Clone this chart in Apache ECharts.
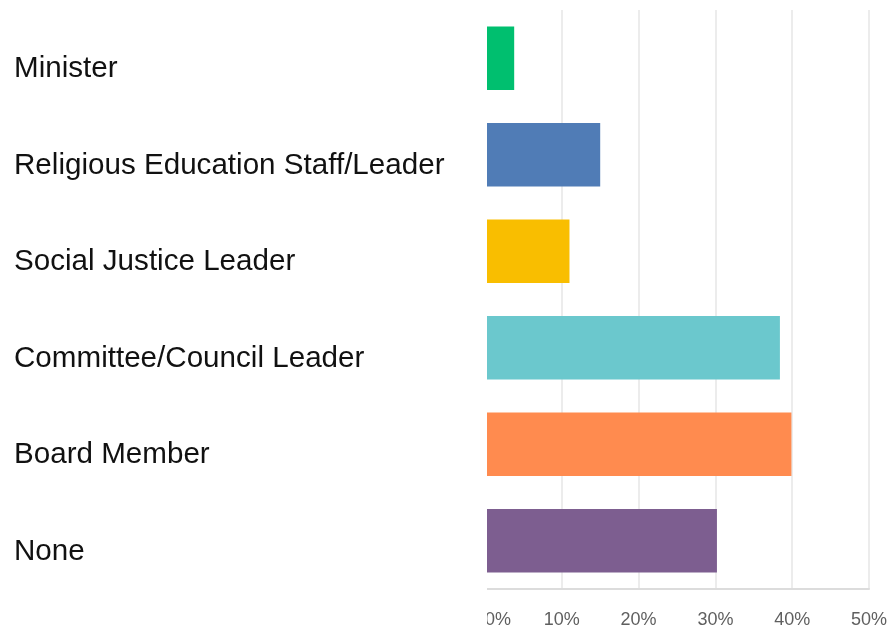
<!DOCTYPE html>
<html>
<head>
<meta charset="utf-8">
<script src="https://cdn.jsdelivr.net/npm/echarts@6/dist/echarts.min.js"></script>
<style>html,body{margin:0;padding:0;background:#fff;}#c{width:891px;height:625px;}</style>
</head>
<body>
<div id="c"></div>
<script>
var categories = ["Minister", "Religious Education Staff/Leader", "Social Justice Leader", "Committee/Council Leader", "Board Member", "None"];
var values = [3.8, 15.0, 11.0, 38.4, 39.9, 30.2];
var colors = ["#00BF6F", "#507CB6", "#F9BE00", "#6BC8CD", "#FF8B4F", "#7D5E90"];
var tickLabels = ["0%", "10%", "20%", "30%", "40%", "50%"];

var chart = echarts.init(document.getElementById('c'), null, {renderer: 'canvas'});
chart.setOption({
  animation: false,
  backgroundColor: '#fff',
  grid: {left: 485, right: 22, top: 10, bottom: 36, containLabel: false, outerBoundsMode: 'none'},
  xAxis: {
    type: 'value', min: 0, max: 50, interval: 10,
    axisLine: {show: true, lineStyle: {color: '#dcdcdc', width: 2}},
    axisTick: {show: false},
    splitLine: {show: true, lineStyle: {color: '#ececec', width: 2}},
    axisLabel: {
      margin: 22, color: '#5f5f5f', fontSize: 18, fontFamily: 'Liberation Sans',
      alignMinLabel: 'left',
      formatter: function (v) { return tickLabels[Math.round(v / 10)]; }
    }
  },
  yAxis: {
    type: 'category', data: categories, inverse: true,
    axisLine: {show: false}, axisTick: {show: false},
    axisLabel: {
      align: 'left', margin: 471, color: '#111', fontSize: 29.6,
      fontFamily: 'Liberation Sans', verticalAlign: 'top', lineHeight: 22
    }
  },
  series: [{
    type: 'bar',
    barCategoryGap: '34%',
    data: values.map(function (v, i) { return {value: v, itemStyle: {color: colors[i]}}; })
  }],
  graphic: [{
    type: 'rect', left: 450, top: 0, z: 100,
    shape: {width: 37, height: 625},
    style: {fill: '#fff'}
  }]
});
</script>
</body>
</html>
